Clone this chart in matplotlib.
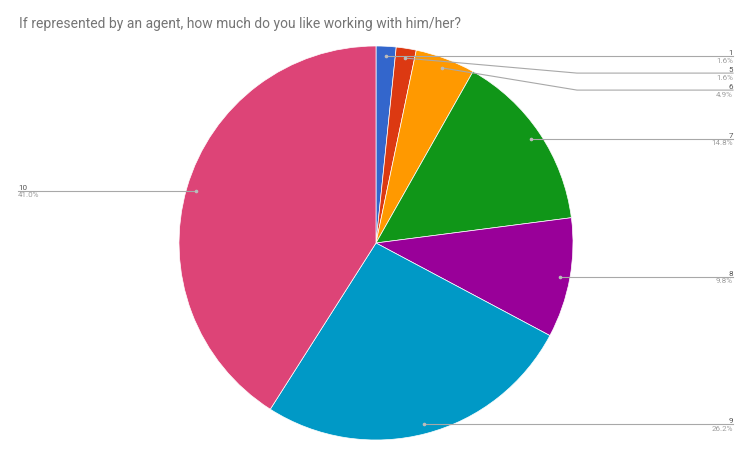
import numpy as np
import matplotlib.pyplot as plt

plt.rcParams['font.family'] = ['Roboto', 'DejaVu Sans']

title = "If represented by an agent, how much do you like working with him/her?"
ratings = ['1', '5', '6', '7', '8', '9', '10']
counts = [1, 1, 3, 9, 6, 16, 25]
colors = ['#3366cc', '#dc3912', '#ff9900', '#109618', '#990099', '#0099c6', '#dd4477']

W, H = 749, 460
fig = plt.figure(figsize=(W / 100, H / 100), dpi=100)
ax = fig.add_axes([0, 0, 1, 1])

# pie centre / radius in pixels (y measured from bottom)
cx, cy, r = 376, H - 244, 197
wedges, _ = ax.pie(counts, colors=colors, startangle=90, counterclock=False,
                   center=(cx, cy), radius=r, frame=True,
                   wedgeprops=dict(linewidth=0.5, edgecolor='white'))
ax.set_xlim(0, W)
ax.set_ylim(0, H)
ax.set_aspect('equal')
ax.axis('off')

total = sum(counts)
line_col = '#a8a8a8'
right_x = 733
left_x = 18
elbow_x = 577
prev_y = None
fs = 5.8
for w, lab, c in zip(wedges, ratings, counts):
    mid = np.deg2rad((w.theta1 + w.theta2) / 2)
    dx = cx + 0.95 * r * np.cos(mid)
    dy = cy + 0.95 * r * np.sin(mid)
    pct = f"{100 * c / total:.1f}%"
    ax.plot(dx, dy, 'o', ms=1.6, color='#bbbbbb', zorder=5)
    if dx >= cx:
        ly = dy
        if prev_y is not None and ly > prev_y - 17:
            ly = prev_y - 17
        prev_y = ly
        if abs(ly - dy) > 0.5:
            ax.plot([dx, elbow_x, right_x], [dy, ly, ly], color=line_col, lw=0.8, zorder=4)
        else:
            ax.plot([dx, right_x], [ly, ly], color=line_col, lw=0.8, zorder=4)
        ax.text(right_x, ly + 0.8, lab, ha='right', va='bottom', fontsize=fs, color='#555555')
        ax.text(right_x, ly - 0.8, pct, ha='right', va='top', fontsize=fs, color='#9e9e9e')
    else:
        ax.plot([left_x, dx], [dy, dy], color=line_col, lw=0.8, zorder=4)
        ax.text(left_x, dy + 0.8, lab, ha='left', va='bottom', fontsize=fs, color='#555555')
        ax.text(left_x, dy - 0.8, pct, ha='left', va='top', fontsize=fs, color='#9e9e9e')

ax.text(19, H - 24, title, ha='left', va='center', fontsize=10, color='#757575')

fig.savefig('out.png', dpi=100)
